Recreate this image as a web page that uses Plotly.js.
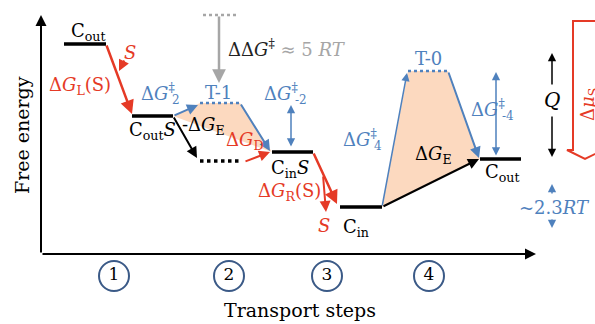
<!DOCTYPE html>
<html><head><meta charset="utf-8">
<script src="https://cdn.plot.ly/plotly-3.0.1.min.js"></script>
<style>body{margin:0;background:#fff}#chart{width:595px;height:324px}</style>
</head><body><div id="chart"></div>
<script>
// ---- data (x: position along transport coordinate, G: free energy, arbitrary units) ----
const levelNames = ['Cout', 'CoutS', 'CoutS*', 'CinS', 'Cin', 'Cout2'];
const levelX0 = [2.3, 9.1, 15.9, 23.1, 29.9, 43.9];
const levelX1 = [6.5, 13.2, 20.1, 27.2, 34.1, 48.0];
const levelG  = [21.0, 13.8, 9.3, 10.2, 4.7, 9.5];
const levelDotted = [false, false, true, false, false, false];

const tsNames = ['T-1', 'T-0'];
const tsX0 = [15.9, 36.7];
const tsX1 = [19.9, 40.7];
const tsG  = [15.1, 18.3];

const refX0 = 16.2, refX1 = 19.6, refG = 23.9;   // grey reference barrier

const stepLabels = ['1', '2', '3', '4'];
const stepX = [7.3, 18.8, 28.6, 38.8];
const stepY = -2.2;

const axisTopG = 23.9, axisEndX = 49.5;

// ---- styles ----
const RED = '#e53a26', BLUE = '#4f81bd', ORANGE = '#fcd9bf', GREY = '#a6a6a6', CIRC = '#3b5a87';
const FONT = 'DejaVu Serif';

const traces = [];
// filled regions (step 2 and step 4)
function fillPoly(a, t, b) {
  traces.push({x: [levelX1[a], tsX0[t], tsX1[t], levelX0[b], levelX1[a]],
               y: [levelG[a], tsG[t], tsG[t], levelG[b], levelG[a]],
               mode: 'lines', fill: 'toself', fillcolor: ORANGE, line: {width: 0}, hoverinfo: 'skip'});
}
fillPoly(1, 0, 3);
fillPoly(4, 1, 5);

// energy levels
levelNames.forEach((n, i) => {
  traces.push({x: [levelX0[i], levelX1[i]], y: [levelG[i], levelG[i]], mode: 'lines',
    line: {color: '#000', width: 3.5, dash: levelDotted[i] ? 'dot' : 'solid'}, hoverinfo: 'skip'});
});
// transition states
tsNames.forEach((n, i) => {
  traces.push({x: [tsX0[i], tsX1[i]], y: [tsG[i], tsG[i]], mode: 'lines',
    line: {color: BLUE, width: 2.5, dash: 'dot'}, hoverinfo: 'skip'});
});
traces.push({x: [refX0, refX1], y: [refG, refG], mode: 'lines',
  line: {color: GREY, width: 2.5, dash: 'dot'}, hoverinfo: 'skip'});

// step circles
traces.push({x: stepX, y: stepX.map(() => stepY), mode: 'markers+text', text: stepLabels,
  textposition: 'middle center', textfont: {family: FONT, size: 17, color: '#000'},
  marker: {symbol: 'circle-open', size: 30, color: CIRC, line: {width: 2, color: CIRC}}, hoverinfo: 'skip'});

const ann = [];
function arrow(x0, y0, x1, y1, color, width, both) {
  ann.push({x: x1, y: y1, ax: x0, ay: y0, xref: 'x', yref: 'y', axref: 'x', ayref: 'y',
    showarrow: true, arrowhead: 2, arrowsize: 1.1, arrowwidth: width, arrowcolor: color,
    arrowside: both ? 'end+start' : 'end', startarrowhead: 2, startarrowsize: 1.1, standoff: 0, startstandoff: 0, text: ''});
}
function label(x, y, text, color, size, opts) {
  ann.push(Object.assign({x: x, y: y, xref: 'x', yref: 'y', text: text, showarrow: false,
    font: {family: FONT, size: size, color: color}, xanchor: 'center', yanchor: 'middle'}, opts || {}));
}
// ΔG‡ with the subscript stacked under the double dagger
function barrierLabel(xRight, y, sub) {
  label(xRight, y, 'Δ<i>G</i><sup>‡</sup>', BLUE, 18, {xanchor: 'right'});
  label(xRight, y, sub, BLUE, 12, {xanchor: 'left', xshift: -7, yshift: -8});
}

// axes
arrow(0, 0, 0, axisTopG, '#000', 2);
arrow(0, 0, axisEndX, 0, '#000', 2);

// transitions between levels
arrow(levelX1[0], levelG[0], levelX0[1], levelG[1] + 0.2, RED, 2.5);        // ΔG_L(S)
arrow(8.4, 19.5, 7.8, 18.3, RED, 2);                                        // S binding
arrow(levelX1[1], levelG[1], tsX0[0] - 0.2, tsG[0] - 0.2, BLUE, 2);          // ΔG‡2
arrow(tsX1[0], tsG[0], levelX0[3] - 0.2, levelG[3] + 0.1, BLUE, 2);          // ΔG‡-2 path
arrow(levelX1[1], levelG[1], levelX0[2] - 0.3, levelG[2] + 0.3, '#000', 2);  // -ΔG_E
arrow(levelX1[2] + 0.2, levelG[2] - 0.1, levelX0[3] - 0.2, levelG[3] , RED, 2); // ΔG_D
arrow(levelX1[3], levelG[3], levelX0[4] - 0.3, levelG[4] + 0.3, RED, 2.5);  // ΔG_R(S)
arrow(28.2, 7.9, 28.5, 4.2, RED, 2);                                        // S release
arrow(levelX1[4], levelG[4], tsX0[1] - 0.1, tsG[1] - 0.2, BLUE, 1.5);        // ΔG‡4
arrow(tsX1[1], tsG[1], levelX0[5] - 0.1, levelG[5] + 0.1, BLUE, 2);          // ΔG‡-4 path
arrow(levelX1[4], levelG[4], levelX0[5] - 0.1, levelG[5], '#000', 2);        // ΔG_E
arrow(17.8, refG, 17.8, 17.1, GREY, 2.5);                                    // ΔΔG‡

// double arrows
arrow(25.0, 10.6, 25.0, 14.9, BLUE, 1.5, true);
arrow(45.5, 9.7, 45.5, 18.2, BLUE, 1.5, true);
arrow(51.1, 16.8, 51.1, 20.1, '#000', 1.5);
arrow(51.1, 13.9, 51.1, 9.7, '#000', 1.5);
arrow(51.1, 5.9, 51.1, 7.0, BLUE, 1.5);
arrow(51.1, 3.6, 51.1, 2.6, BLUE, 1.5);

// labels
label(4.7, 20.8, 'C<sub>out</sub>', '#000', 18, {yanchor: 'bottom'});
label(8.9, 20.2, '<i>S</i>', RED, 18);
label(3.9, 16.8, 'Δ<i>G</i><sub>L</sub>(S)', RED, 18);
label(11.1, 12.3, 'C<sub>out</sub><i>S</i>', '#000', 18);
barrierLabel(13.6, 16.2, '2');
label(17.7, 16.2, 'T-1', BLUE, 18);
label(16.2, 12.8, '-Δ<i>G</i><sub>E</sub>', '#000', 18);
label(20.4, 11.3, 'Δ<i>G</i><sub>D</sub>', RED, 18);
barrierLabel(25.9, 16.2, '-2');
label(24.9, 8.5, 'C<sub>in</sub><i>S</i>', '#000', 18);
label(24.8, 6.2, 'Δ<i>G</i><sub>R</sub>(S)', RED, 18);
label(28.3, 2.9, '<i>S</i>', RED, 18);
label(31.5, 2.6, 'C<sub>in</sub>', '#000', 18);
label(18.5, 20.6, 'ΔΔ<i>G</i><sup>‡</sup> <span style="color:' + GREY + '">≈ 5 <i>RT</i></span>', '#222', 18, {xanchor: 'left'});
label(38.7, 19.6, 'T-0', BLUE, 18);
barrierLabel(33.8, 11.6, '4');
label(39.2, 9.9, 'Δ<i>G</i><sub>E</sub>', '#000', 18);
label(46.1, 8.1, 'C<sub>out</sub>', '#000', 18);
barrierLabel(46.6, 14.6, '-4');
label(51.1, 15.4, '<i>Q</i>', '#000', 20);
label(51.3, 4.7, '~2.3<i>RT</i>', BLUE, 18);
label(54.8, 14.9, 'Δ<i>μ</i><sub>S</sub>', RED, 18, {textangle: -90});
label(25.9, -5.6, 'Transport steps', '#000', 19);
label(-1.9, 11.9, 'Free energy', '#000', 19, {textangle: -90});

const shapes = [{type: 'path', xref: 'x', yref: 'y',
  path: 'M 55.6 23.3 L 53.2 23.3 L 53.2 10.4 L 52.6 10.4 L 54.4 9.5 L 56.2 10.4',
  line: {color: RED, width: 2}}];

Plotly.newPlot('chart', traces, {
  width: 595, height: 324, margin: {l: 0, r: 0, t: 0, b: 0},
  paper_bgcolor: '#fff', plot_bgcolor: '#fff', showlegend: false,
  xaxis: {range: [-4.1, 55.4], visible: false, fixedrange: true},
  yaxis: {range: [-7, 25.4], visible: false, fixedrange: true},
  annotations: ann, shapes: shapes
}, {staticPlot: true});
</script></body></html>
